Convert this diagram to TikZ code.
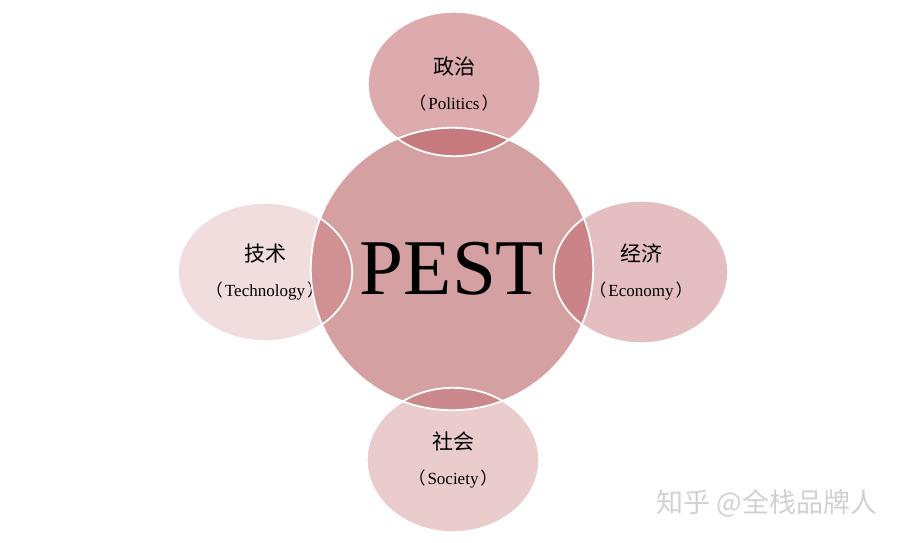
\documentclass[tikz,border=0pt]{standalone}
\usepackage{fontspec}
\setmainfont{Liberation Serif}
\newfontfamily\cjk{Noto Sans CJK SC}
\usetikzlibrary{shapes}
\usetikzlibrary{calc}
\definecolor{pestCore}{HTML}{D4A0A2}
\definecolor{pestPetal}{HTML}{BB555B}
\newcommand{\petalText}[2]{{\cjk\fontsize{21}{34}\selectfont #1}\\{\cjk （}\hspace{2pt}#2\hspace{2pt}{\cjk ）}}

\begin{document}
\begin{tikzpicture}[x=1pt,y=-1pt]
	\tikzstyle{petal}=[ellipse, inner sep=0pt, fill=pestPetal, text opacity=1, align=center, font=\fontsize{17}{35}\selectfont]
	\tikzstyle{rim}=[draw=white, line width=1.8pt]
	\useasboundingbox (0,0) rectangle (900,543);
	\node[circle, fill=pestCore, minimum size=282pt, inner sep=0pt, font=\fontsize{79}{79}\selectfont] at (452, 269) (pest) {PEST};
	
	\node[petal, minimum width=172pt, minimum height=144pt, fill opacity=0.5] at (454, 84) (politics) {\petalText{政治}{Politics}};
	\node[petal, minimum width=174pt, minimum height=142pt, fill opacity=0.38] at (641, 272) (economy) {\petalText{经济}{Economy}};
	\node[petal, minimum width=172pt, minimum height=144pt, fill opacity=0.3] at (453, 460) (society) {\petalText{社会}{Society}};
	\node[petal, minimum width=174pt, minimum height=138pt, fill opacity=0.2] at (265, 272) (technology) {\petalText{技术}{Technology}};
	
	\foreach \b in {pest, politics, economy, society, technology}
		\draw[rim] let \p1=($(\b.east)-(\b.center)$), \p2=($(\b.north)-(\b.center)$) in (\b.center) ellipse ({\x1} and {\y2});
	
	\node[anchor=west, text=black!18, font=\cjk\fontsize{27}{27}\selectfont] at (653, 503) (zhihu) {知乎 @全栈品牌人};
\end{tikzpicture}
\end{document}
